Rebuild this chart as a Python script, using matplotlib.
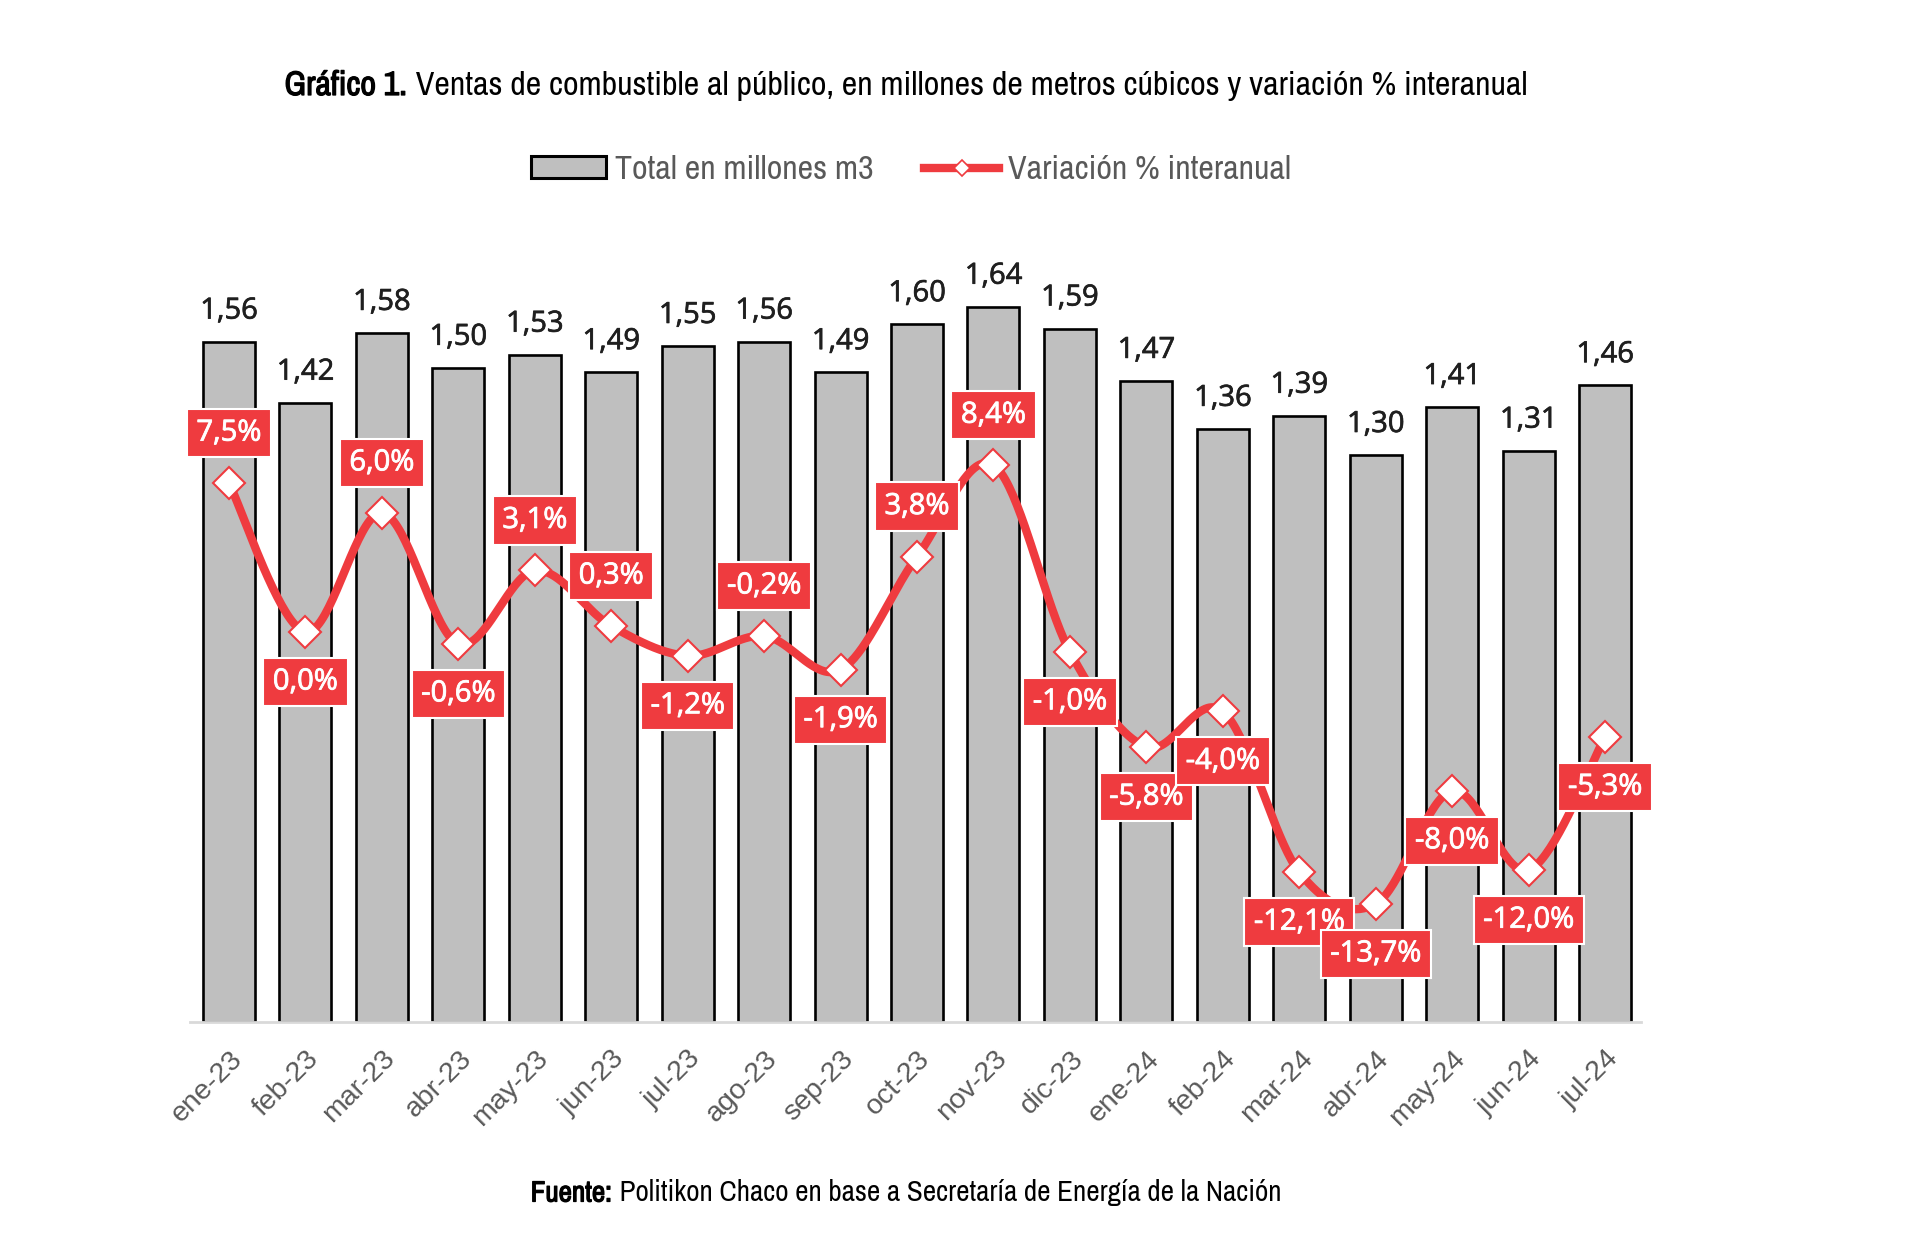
import matplotlib
matplotlib.use("Agg")
import matplotlib.pyplot as plt
import matplotlib.patheffects as pe
import numpy as np
from matplotlib.patches import Patch
from matplotlib.lines import Line2D

months = ["ene-23", "feb-23", "mar-23", "abr-23", "may-23", "jun-23", "jul-23",
          "ago-23", "sep-23", "oct-23", "nov-23", "dic-23", "ene-24", "feb-24",
          "mar-24", "abr-24", "may-24", "jun-24", "jul-24"]
totals = [1.56, 1.42, 1.58, 1.50, 1.53, 1.49, 1.55, 1.56, 1.49, 1.60, 1.64,
          1.59, 1.47, 1.36, 1.39, 1.30, 1.41, 1.31, 1.46]
variation = [7.5, 0.0, 6.0, -0.6, 3.1, 0.3, -1.2, -0.2, -1.9, 3.8, 8.4,
             -1.0, -5.8, -4.0, -12.1, -13.7, -8.0, -12.0, -5.3]
# label placement: +1 above point, -1 below point
label_side = [1, -1, 1, -1, 1, 1, -1, 1, -1, 1, 1,
              -1, -1, -1, -1, -1, -1, -1, -1]

RED = "#EF3B3F"
GRAY = "#BFBFBF"
TXT = "#595959"
NARROW = ["Archivo Narrow", "Roboto Condensed", "DejaVu Sans"]
LABF = ["Open Sans", "DejaVu Sans"]

W, H = 1920, 1240
fig = plt.figure(figsize=(W / 100, H / 100), dpi=100)

ax = fig.add_axes([190 / W, (H - 1022) / H, (1641 - 190) / W, (1022 - 237) / H])
x = np.arange(len(months))
ax.bar(x, totals, width=0.68, color=GRAY, edgecolor="black", linewidth=1.9, zorder=2)
ax.set_xlim(-0.51, 18.47)
ax.set_ylim(0, 1.8)
for s in ["top", "right", "left"]:
    ax.spines[s].set_visible(False)
ax.spines["bottom"].set_color("#D9D9D9")
ax.spines["bottom"].set_linewidth(2)
ax.set_yticks([])
ax.set_xticks(x)
ax.set_xticklabels(months, rotation=45, ha="right", rotation_mode="anchor",
                   fontsize=20.5, color=TXT, family=["Liberation Sans", "DejaVu Sans"])
ax.tick_params(axis="x", length=0, pad=17)

for xi, v in zip(x, totals):
    ax.annotate(f"{v:.2f}".replace(".", ","), (xi, v), xytext=(0, 22),
                textcoords="offset points", ha="center", va="center",
                fontsize=21, color="#1F1F1F", family=LABF, fontweight="medium", zorder=3,
                path_effects=[pe.withStroke(linewidth=0.5, foreground="#1F1F1F")])

ax2 = ax.twinx()
ax2.set_ylim(-19.65, 19.9)
ax2.set_yticks([])
for s in ["top", "right", "left", "bottom"]:
    ax2.spines[s].set_visible(False)

# smoothed line (Catmull-Rom / Excel style) through the data points
px = np.array(x, dtype=float)
py = np.array(variation, dtype=float)
sx, sy = [], []
n = len(px)
for i in range(n - 1):
    p0 = np.array([px[max(i - 1, 0)], py[max(i - 1, 0)]])
    p1 = np.array([px[i], py[i]])
    p2 = np.array([px[i + 1], py[i + 1]])
    p3 = np.array([px[min(i + 2, n - 1)], py[min(i + 2, n - 1)]])
    c1 = p1 + (p2 - p0) / 6
    c2 = p2 - (p3 - p1) / 6
    t = np.linspace(0, 1, 40)[:, None]
    b = (1 - t) ** 3 * p1 + 3 * (1 - t) ** 2 * t * c1 + 3 * (1 - t) * t ** 2 * c2 + t ** 3 * p2
    sx.extend(b[:, 0]); sy.extend(b[:, 1])
ax2.plot(sx, sy, color=RED, linewidth=6, solid_capstyle="round", zorder=3)
ax2.plot(px, py, linestyle="none", marker="D", markersize=16,
         markerfacecolor="white", markeredgecolor=RED, markeredgewidth=1.5, zorder=4)

for xi, v, side in zip(x, variation, label_side):
    ax2.annotate(f"{v:.1f}%".replace(".", ","), (xi, v), xytext=(0, 36 * side),
                 textcoords="offset points", ha="center", va="center",
                 fontsize=21, color="white", family=LABF, fontweight="medium", zorder=5,
                 path_effects=[pe.withStroke(linewidth=0.6, foreground="white")],
                 bbox=dict(boxstyle="square,pad=0.33", fc=RED, ec="white", lw=1.5))

# legend
handles = [Patch(facecolor=GRAY, edgecolor="black", linewidth=2.2),
           Line2D([0], [0], color=RED, linewidth=6, marker="D", markersize=8,
                  markerfacecolor="white", markeredgecolor=RED, markeredgewidth=1.2)]
fig.legend(handles, ["Total en millones m3", "Variación % interanual"],
           loc="center", bbox_to_anchor=(911 / W, 1 - 170 / H), ncol=2,
           frameon=False, handlelength=2.2, handleheight=0.6, handletextpad=0.25,
           columnspacing=1.5, prop={"family": NARROW, "size": 24.5}, labelcolor=TXT)

# title and source with mixed weights
renderer = fig.canvas.get_renderer()

def two_part(bold, rest, cx, cy, size):
    t1 = fig.text(0, cy, bold, fontsize=size, fontweight="bold", family=NARROW,
                  va="center", ha="left", color="black",
                  path_effects=[pe.withStroke(linewidth=0.9, foreground="black")])
    t2 = fig.text(0, cy, rest, fontsize=size, family=NARROW, va="center",
                  ha="left", color="black")
    w1 = t1.get_window_extent(renderer).width + 1
    w2 = t2.get_window_extent(renderer).width
    x0 = cx - (w1 + w2) / 2
    t1.set_x(x0 / W)
    t2.set_x((x0 + w1) / W)

two_part("Gráfico 1.", " Ventas de combustible al público, en millones de metros cúbicos y variación % interanual",
         906, 1 - 86 / H, 24.5)
two_part("Fuente:", " Politikon Chaco en base a Secretaría de Energía de la Nación",
         906, 1 - 1193 / H, 21)

fig.savefig("out.png", dpi=100, facecolor="white")
